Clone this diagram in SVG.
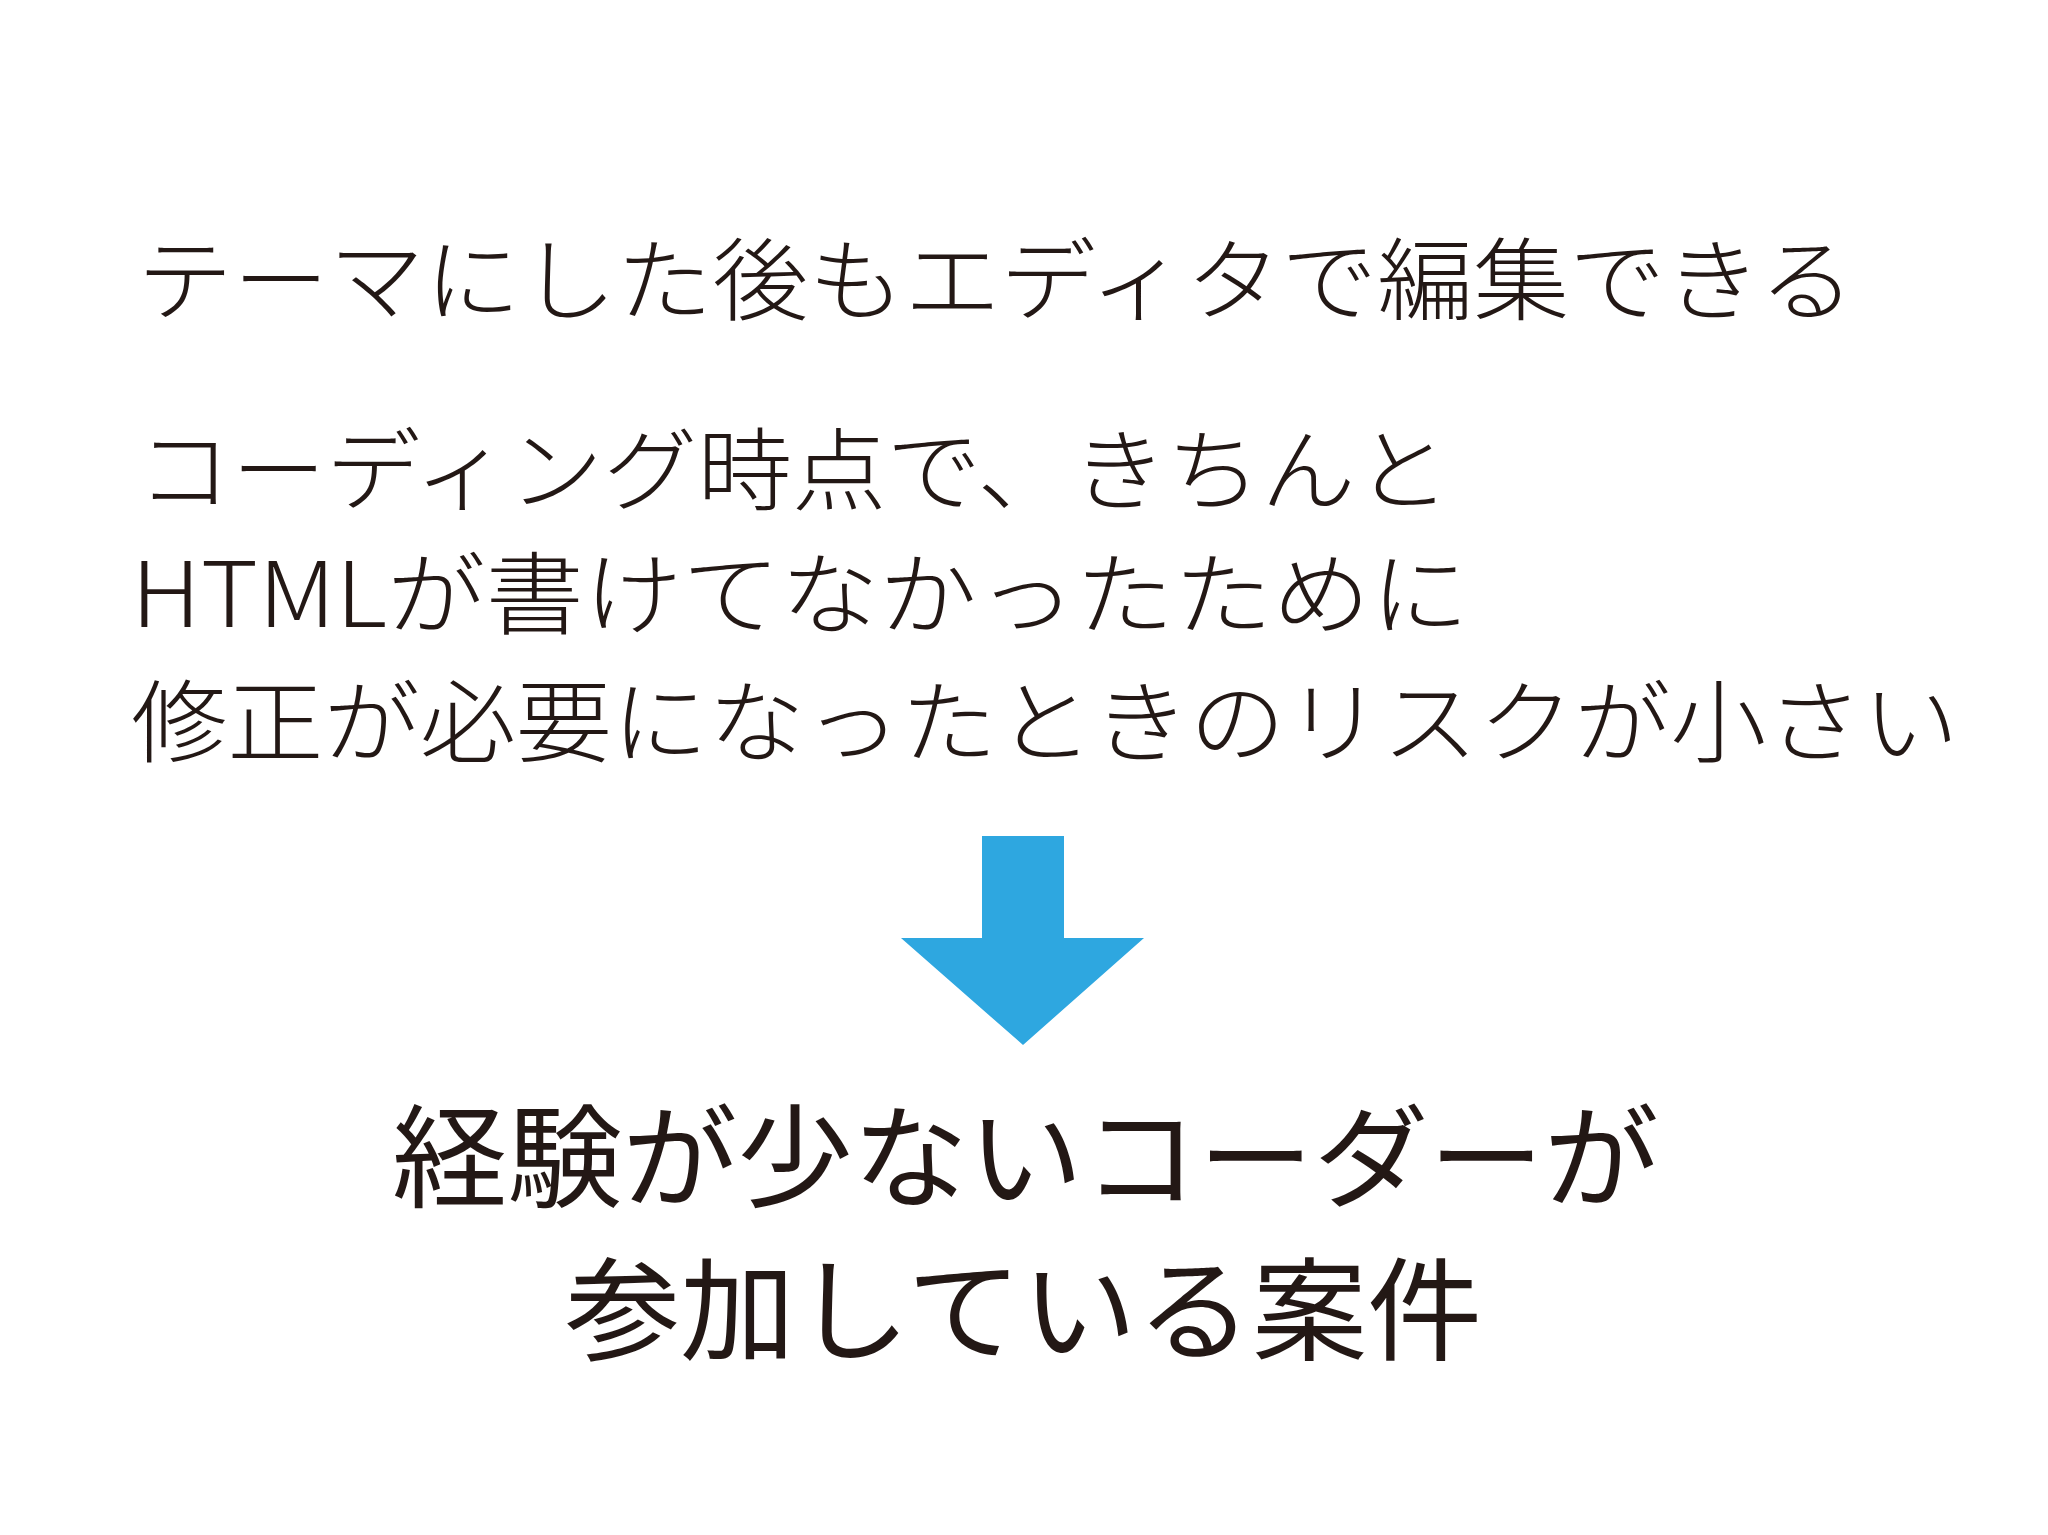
<svg xmlns="http://www.w3.org/2000/svg" width="2048" height="1535" viewBox="0 0 2048 1535">
<style>
.t{font-family:"Noto Sans CJK JP","Noto Sans",sans-serif;fill:#231815;font-size:90px;font-weight:300}
.b{font-family:"Noto Sans CJK JP","Noto Sans",sans-serif;fill:#231815;font-size:112px;font-weight:400}
</style>
<rect width="2048" height="1535" fill="#ffffff"/>
<g id="top">
<text class="t" x="137" y="313" textLength="1718" lengthAdjust="spacingAndGlyphs">テーマにした後もエディタで編集できる</text>
<text class="t" x="137" y="503" textLength="1313" lengthAdjust="spacingAndGlyphs">コーディング時点で、きちんと</text>
<text class="t" x="131" y="627" textLength="1338" lengthAdjust="spacingAndGlyphs">HTMLが書けてなかったために</text>
<text class="t" x="131" y="755" textLength="1828" lengthAdjust="spacingAndGlyphs">修正が必要になったときのリスクが小さい</text>
</g>
<g id="connectors">
<polygon points="982,836 1064,836 1064,938 1144,938 1023,1045 901,938 982,938" fill="#2ea7e0"/>
</g>
<g id="bottom">
<text class="b" x="392" y="1199" textLength="1267" lengthAdjust="spacingAndGlyphs">経験が少ないコーダーが</text>
<text class="b" x="565" y="1352" textLength="917" lengthAdjust="spacingAndGlyphs">参加している案件</text>
</g>
</svg>
